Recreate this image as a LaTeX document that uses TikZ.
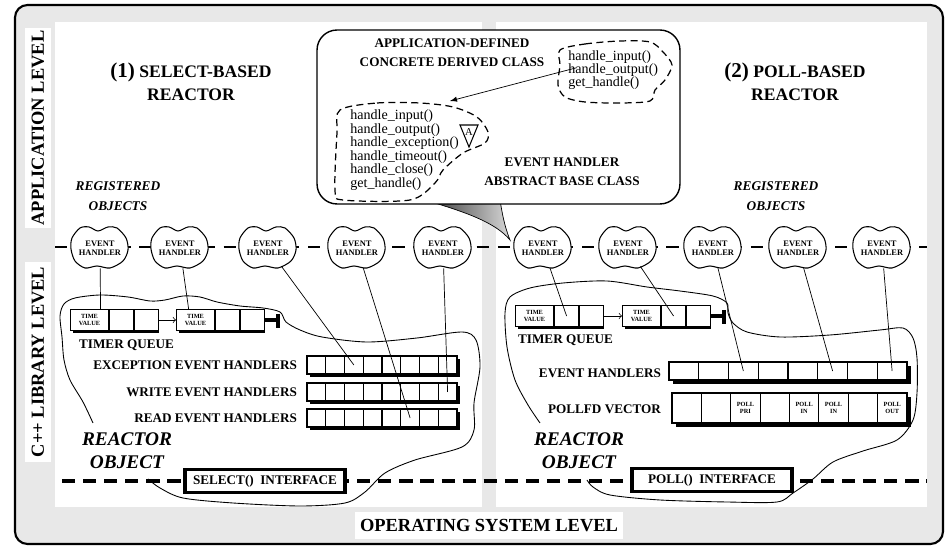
\documentclass[tikz,border=0pt]{standalone}
\usepackage{fontspec}
\setmainfont{Liberation Serif}
\usetikzlibrary{shapes.geometric,arrows}
\newcommand{\fsz}[2]{\fontsize{#1}{#2}\selectfont}

\begin{document}
\begin{tikzpicture}[x=0.02cm,y=-0.02cm,
        cell/.style={draw,fill=white,line width=0.6pt,inner sep=0pt,minimum height=0.36cm,
            font=\fsz{3.6}{4}\bfseries,align=center},
        handler/.style={ellipse,inner sep=0pt,minimum width=1.1cm,minimum height=0.8cm,
            font=\fsz{4.8}{5.4}\bfseries,align=center},
        lbl/.style={font=\fsz{7.5}{11}\bfseries,inner sep=1pt,align=center},
        side/.style={fill=white,font=\fsz{10.5}{12}\bfseries,minimum height=0.54cm,inner sep=1pt},
        title/.style={font=\fsz{10}{13}\bfseries,align=center},
        reg/.style={font=\fsz{7.6}{11}\bfseries\itshape,align=center},
        robj/.style={font=\fsz{11}{13}\bfseries\itshape,align=center},
        iface/.style={draw,fill=white,line width=1.8pt,minimum width=3.2cm,minimum height=0.46cm,
            font=\fsz{7.5}{9}\bfseries},
        meth/.style={font=\fsz{8}{7.5},align=left,inner sep=0pt},
        wob/.style={line width=0.5pt},
        dwob/.style={line width=0.7pt,dash pattern=on 4pt off 2.5pt}]
        \useasboundingbox (0,0) rectangle (947,546);
        % frame and level panels
        \draw[line width=1.2pt,fill=black!9,rounded corners=0.25cm] (15,5) rectangle (943,544);
        \fill[white] (55,22) rectangle (482,507);
        \fill[white] (496,22) rectangle (927,507);
        \node[side,rotate=90,minimum width=4cm] (applvl) at (38,128) {APPLICATION LEVEL};
        \node[side,rotate=90,minimum width=4cm] (liblvl) at (38,362) {C++ LIBRARY LEVEL};
        \node[side,minimum width=5.36cm] (oslvl) at (489,526) {OPERATING SYSTEM LEVEL};
        \draw[line width=1pt,dash pattern=on 7pt off 5pt] (55,247) -- (927,247);
        \draw[line width=2pt,dash pattern=on 7.5pt off 4.5pt] (62,481) -- (927,481);

        % reactor objects
        \draw[wob] plot[smooth] coordinates {(93,423) (83,402) (70,380) (64,360) (62,337) (60,316)
            (64,304) (75,298) (100,295) (128,297) (150,301) (165,300) (183,296) (200,297) (217,302)
            (240,306) (263,308) (280,312) (286,322) (300,330) (322,337) (367,342) (417,338) (462,332)
            (476,340) (480,367) (474,403) (474,430) (462,447) (415,460) (385,473) (365,492) (345,503)
            (300,506) (233,503) (183,498) (160,488) (148,479)};
        \draw[wob] plot[smooth] coordinates {(540,423) (528,405) (515,380) (507,347) (505,313)
            (510,297) (530,288) (563,283) (607,281) (647,287) (680,291) (713,296) (727,303) (728,313)
            (733,323) (747,332) (780,337) (830,335) (880,330) (903,328) (913,338) (917,358) (917,393)
            (913,420) (897,440) (863,451) (833,462) (813,479) (793,493) (777,502) (727,502) (660,500)
            (610,495) (593,487) (587,480)};

        \node[title] (ttlL) at (191,82) {{\fsz{12}{13}(1)} SELECT-BASED\\REACTOR};
        \node[title] (ttlR) at (795,82) {{\fsz{12}{13}(2)} POLL-BASED\\REACTOR};
        \node[reg] (regL) at (118,196) {REGISTERED\\OBJECTS};
        \node[reg] (regR) at (776,196) {REGISTERED\\OBJECTS};

        % timer queues
        \foreach \q/\x/\y in {A/70/320,B/176/320,C/515/316,D/622/316}{
            \fill (\x+3,\y-7.5) rectangle (\x+89,\y+13.5);
            \node[cell,minimum width=0.76cm,minimum height=0.42cm,anchor=west] (tv\q) at (\x,\y) {TIME\\VALUE};
            \node[cell,minimum width=0.48cm,minimum height=0.42cm,anchor=west] (tv\q2) at (tv\q.east) {};
            \node[cell,minimum width=0.48cm,minimum height=0.42cm,anchor=west] (tv\q3) at (tv\q2.east) {};
        }
        \draw[->] (tvA3) -- (tvB);
        \draw[->] (tvC3) -- (tvD);
        \draw[line width=1.8pt] (tvB3.east) -- ++(13,0) coordinate (nilB);
        \draw[line width=2.5pt] (nilB) ++(0,-6) -- ++(0,14);
        \draw[line width=1.8pt] (tvD3.east) -- ++(13,0) coordinate (nilD);
        \draw[line width=2.5pt] (nilD) ++(0,-6) -- ++(0,14);
        \node[lbl,anchor=west] (tqL) at (77,345) {TIMER QUEUE};
        \node[lbl,anchor=west] (tqR) at (516,340) {TIMER QUEUE};

        % select() handler sets
        \foreach \r/\y/\lab in {exc/365/EXCEPTION EVENT HANDLERS,wr/392/WRITE EVENT HANDLERS,rd/418/READ EVENT HANDLERS}{
            \fill (310,\y-6) rectangle (460,\y+12);
            \foreach \i in {1,...,8}
                \node[cell,minimum width=0.375cm] (\r\i) at ({297.6+18.75*\i},\y) {};
            \draw[line width=0.9pt] (307,\y-9) rectangle (457,\y+9);
            \node[lbl,anchor=east] (\r) at (299,\y) {\lab};
        }

        % poll() handler table and pollfd vector
        \fill (673,366) rectangle (911,384);
        \foreach \i in {1,...,8}
            \node[cell,minimum width=0.595cm] (ev\i) at ({654.1+29.75*\i},371) {};
        \draw[line width=1.2pt] (669,362) rectangle (907,380);
        \node[lbl,anchor=east] (evlbl) at (663,373) {EVENT HANDLERS};
        \fill (676,397) rectangle (911,427);
        \foreach \i/\txt in {1/{},2/{},3/POLL\\PRI,4/{},5/POLL\\IN,6/POLL\\IN,7/{},8/POLL\\OUT}
            \node[cell,minimum width=0.5875cm,minimum height=0.6cm] (pfd\i) at ({657.3+29.375*\i},408) {\txt};
        \draw[line width=1.2pt] (672,393) rectangle (907,423);
        \node[lbl,anchor=east] (pfdlbl) at (663,409) {POLLFD VECTOR};

        % registered event handlers
        \foreach \n/\x in {hL1/100,hL2/180,hL3/268,hL4/357,hL5/443,hR1/543,hR2/628,hR3/713,hR4/798,hR5/882}{
            \draw[fill=white,line width=0.6pt,shift={(\x,247)}] plot[smooth cycle] coordinates {(-28,-9)
                (-20,-19) (-11,-20) (-2,-16) (8,-20) (17,-19) (26,-9) (28,3) (23,14) (10,21) (-3,19)
                (-15,21) (-25,14) (-29,2)};
            \node[handler] (\n) at (\x,248) {EVENT\\HANDLER};
        }
        \draw (hL1) -- (tvA.45);
        \draw (hL2) -- (tvB.122);
        \draw (hL3) -- (exc3.center);
        \draw (hL4) -- (rd6.center);
        \draw (hL5) -- (wr8.center);
        \draw (hR1) -- (tvC2.center);
        \draw (hR2) -- (tvD2.center);
        \draw (hR3) -- (ev3.center);
        \draw (hR4) -- (ev6.center);
        \draw (hR5) -- (ev8.center);

        \node[robj] (robjL) at (127,451) {REACTOR\\OBJECT};
        \node[robj] (robjR) at (579,451) {REACTOR\\OBJECT};
        \node[iface] (selif) at (265,481) {SELECT()\ \ INTERFACE};
        \node[iface] (pollif) at (712,480) {POLL()\ \ INTERFACE};

        % event handler class callout
        \shade[left color=black!80,right color=black!15,draw=black,line width=0.4pt] (425,200)
            .. controls (465,212) and (495,222) .. (510,240)
            .. controls (504,225) and (502,212) .. (500,200) -- cycle;
        \node[draw,fill=white,line width=0.8pt,rounded corners=0.4cm,minimum width=7.26cm,
            minimum height=3.48cm] (callout) at (498.5,117) {};
        \node[lbl] (appcls) at (452,53) {APPLICATION-DEFINED\\CONCRETE DERIVED CLASS};
        \draw[dwob] plot[smooth cycle] coordinates {(560,50) (585,44) (620,41) (650,42) (663,52)
            (672,65) (665,80) (655,90) (650,101) (620,103) (585,102) (565,97) (558,85) (560,65)};
        \node[meth,anchor=west] (drv) at (568,70) {handle\_input()\\handle\_output()\\get\_handle()};
        \draw[dwob] plot[smooth cycle] coordinates {(340,110) (377,103) (420,103) (453,107) (477,117)
            (488,132) (485,143) (463,153) (443,170) (435,183) (410,200) (343,200) (335,190) (337,133)};
        \node[meth,anchor=west,font=\fsz{8}{7.7}] (base) at (350,150) {handle\_input()\\handle\_output()\\handle\_exception()\\handle\_timeout()\\handle\_close()\\get\_handle()};
        \node[font=\fsz{6}{6},inner sep=0pt] (abs) at (469,132) {A};
        \draw[line width=0.6pt] (460,125) -- (478,125) -- (469,147) -- cycle;
        \coordinate (tip) at (450,101);
        \draw[-latex,shorten <=-5pt] (drv.west) -- (tip);
        \node[lbl,font=\fsz{7.5}{10.8}\bfseries] (ehabc) at (562,172) {EVENT HANDLER\\ABSTRACT BASE CLASS};
\end{tikzpicture}
\end{document}
